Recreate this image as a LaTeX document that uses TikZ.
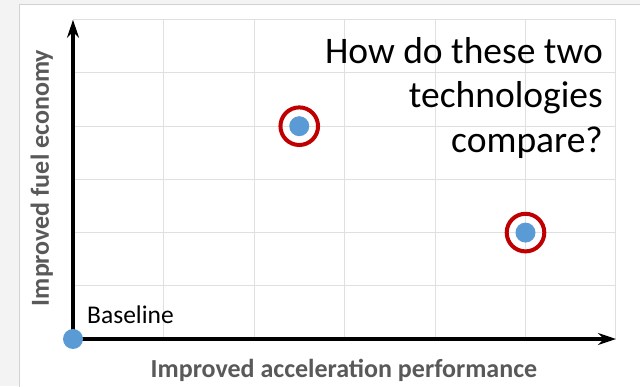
\documentclass[tikz,border=0pt]{standalone}
\usepackage{fontspec}
\setmainfont{Carlito}
\usepackage{tikz}
\usetikzlibrary{arrows.meta,positioning,calc}
\definecolor{dfgrid}{RGB}{224,224,224}
\definecolor{dfdot}{RGB}{91,155,213}
\definecolor{dfring}{RGB}{192,0,0}
\definecolor{dflabel}{RGB}{89,89,89}
\definecolor{dfframe}{RGB}{210,210,210}
\definecolor{dfback}{RGB}{243,243,243}
\tikzstyle{axis} = [line width=3.3pt,-{Stealth[length=18pt,width=12pt]},color=black]
\tikzstyle{gridline} = [line width=1pt,color=dfgrid]
\tikzstyle{techdot} = [circle, fill=dfdot, inner sep=0pt, minimum size=20pt]
\tikzstyle{techring} = [circle, draw=dfring, line width=4pt, inner sep=0pt, minimum size=37.6pt]
\tikzstyle{axislabel} = [font=\fontsize{26}{30}\selectfont\bfseries, color=dflabel, inner sep=0pt]

\begin{document}
\begin{tikzpicture}[x=90.5pt, y=53.2pt]
    % Frame
    \useasboundingbox (-73pt,-47pt) rectangle (567pt,339pt);
    \fill[dfback] (-73pt,-47pt) rectangle (567pt,339pt);
    \filldraw[fill=white, draw=dfframe] (-54pt,-60pt) rectangle (600pt,334.3pt);

    % Grid
    \draw[gridline, step=1] (0,0) grid (6,6);

    % Axes
    \coordinate (origin) at (0,0);
    \coordinate (xend) at (6,0);
    \coordinate (yend) at (0,6);
    \draw[axis] (origin) -- (xend);
    \draw[axis] (origin) -- (yend);

    % Points
    \node[techdot] (base) at (origin) {};
    \node[techdot] (techA) at (2.5,4) {};
    \node[techdot] (techB) at (5,2) {};
    \node[techring] (ringA) at (techA) {};
    \node[techring] (ringB) at (techB) {};

    % Labels
    \node[anchor=base west, inner sep=0pt, font=\fontsize{25.5}{30}\selectfont] (baselbl) at (14pt,16pt) {Baseline};
    \node[anchor=north east, align=right, inner sep=0pt, font=\fontsize{37.5}{44.5}\selectfont] (question) at (530pt,302pt) {How do these two\\technologies\\compare?};
    \node[axislabel, anchor=base] (xlbl) at (271pt,-38.3pt) {Improved acceleration performance};
    \node[axislabel, rotate=90, anchor=base] (ylbl) at (-24pt,161pt) {Improved fuel economy};
\end{tikzpicture}
\end{document}
